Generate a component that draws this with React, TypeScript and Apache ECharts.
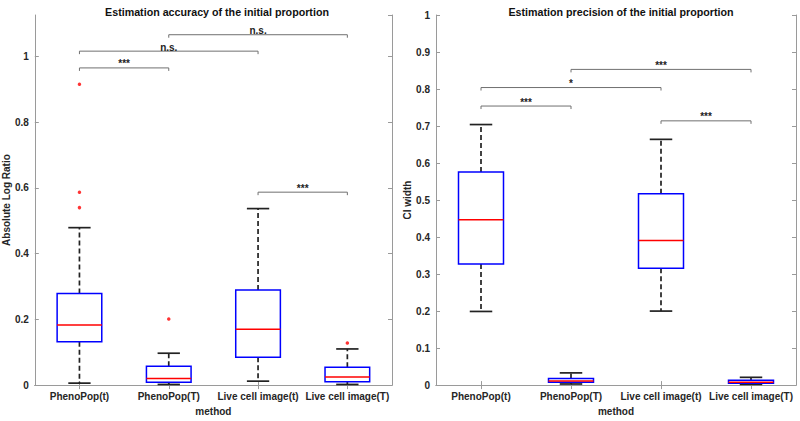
import React, { useEffect, useRef } from "react";
import * as echarts from "echarts";

const categories = ["PhenoPop(t)", "PhenoPop(T)", "Live cell image(t)", "Live cell image(T)"];

// [low whisker, Q1, median, Q3, high whisker]
const accuracyStats = [
  [0.006, 0.132, 0.183, 0.279, 0.479],
  [0.002, 0.009, 0.02, 0.057, 0.097],
  [0.012, 0.085, 0.17, 0.289, 0.537],
  [0.002, 0.01, 0.025, 0.054, 0.11],
];
const accuracyOutliers = [
  [0, 0.915],
  [0, 0.587],
  [0, 0.54],
  [1, 0.201],
  [3, 0.128],
];
const precisionStats = [
  [0.199, 0.327, 0.447, 0.576, 0.704],
  [0.003, 0.008, 0.011, 0.018, 0.033],
  [0.2, 0.316, 0.391, 0.517, 0.664],
  [0.002, 0.005, 0.008, 0.013, 0.021],
];
const precisionOutliers: number[][] = [];

// [from category, to category, height]
const accuracyBrackets = [
  [0, 1, 0.965],
  [0, 2, 1.016],
  [1, 3, 1.066],
  [2, 3, 0.587],
];
const accuracyBracketLabels = ["***", "n.s.", "n.s.", "***"];
const precisionBrackets = [
  [0, 1, 0.754],
  [0, 2, 0.804],
  [1, 3, 0.853],
  [2, 3, 0.714],
];
const precisionBracketLabels = ["***", "*", "***", "***"];

const FONT = "'Liberation Sans', Arial, Helvetica, sans-serif";
const AXIS_COLOR = "#9a9a9a";
const TEXT_COLOR = "#262626";

function boxRender(params: any, api: any) {
  const idx = api.value(0);
  const low = api.coord([idx, api.value(1)]);
  const q1 = api.coord([idx, api.value(2)]);
  const med = api.coord([idx, api.value(3)]);
  const q3 = api.coord([idx, api.value(4)]);
  const high = api.coord([idx, api.value(5)]);
  const band = api.size([1, 0])[0];
  const hw = band * 0.25;
  const cw = band * 0.125;
  const cx = med[0];
  const whisk = { stroke: "#222", lineWidth: 1.7, lineDash: [5, 3] };
  const cap = { stroke: "#222", lineWidth: 1.7 };
  return {
    type: "group",
    children: [
      { type: "line", shape: { x1: cx, y1: q3[1], x2: cx, y2: high[1] }, style: whisk },
      { type: "line", shape: { x1: cx, y1: q1[1], x2: cx, y2: low[1] }, style: whisk },
      { type: "line", shape: { x1: cx - cw, y1: high[1], x2: cx + cw, y2: high[1] }, style: cap },
      { type: "line", shape: { x1: cx - cw, y1: low[1], x2: cx + cw, y2: low[1] }, style: cap },
      {
        type: "rect",
        shape: { x: cx - hw, y: q3[1], width: 2 * hw, height: q1[1] - q3[1] },
        style: { fill: "#ffffff", stroke: "#0000ff", lineWidth: 1.5 },
      },
      { type: "line", shape: { x1: cx - hw, y1: med[1], x2: cx + hw, y2: med[1] }, style: { stroke: "#ff0000", lineWidth: 1.5 } },
    ],
  };
}

function bracketRender(labels: string[]) {
  return (params: any, api: any) => {
    const a = api.coord([api.value(0), api.value(2)]);
    const b = api.coord([api.value(1), api.value(2)]);
    const leg = 3;
    return {
      type: "group",
      children: [
        {
          type: "polyline",
          shape: { points: [[a[0], a[1] + leg], [a[0], a[1]], [b[0], b[1]], [b[0], b[1] + leg]] },
          style: { stroke: "#707070", lineWidth: 1, fill: "none" },
        },
        {
          type: "text",
          x: (a[0] + b[0]) / 2,
          y: a[1] + 1,
          style: {
            text: labels[params.dataIndex],
            fill: "#222",
            font: `bold 10px ${FONT}`,
            align: "center",
            verticalAlign: "bottom",
          },
        },
      ],
    };
  };
}

function catAxis(gridIndex: number, position: "bottom" | "top", withLabels: boolean, name?: string) {
  return {
    type: "category",
    gridIndex,
    position,
    data: categories,
    boundaryGap: true,
    name: name || "",
    nameLocation: "middle",
    nameGap: 18,
    nameTextStyle: { fontFamily: FONT, fontWeight: "bold", fontSize: 10, color: TEXT_COLOR, verticalAlign: "top" },
    axisLine: { show: true, lineStyle: { color: AXIS_COLOR, width: 1 } },
    axisTick: { show: true, inside: true, alignWithLabel: true, length: 4, lineStyle: { color: AXIS_COLOR } },
    axisLabel: { show: withLabels, margin: 6, fontFamily: FONT, fontWeight: "bold", fontSize: 10, color: TEXT_COLOR, interval: 0 },
    splitLine: { show: false },
  };
}

function valAxis(gridIndex: number, position: "left" | "right", max: number, interval: number, withLabels: boolean, name?: string) {
  return {
    type: "value",
    gridIndex,
    position,
    min: 0,
    max,
    interval,
    name: name || "",
    nameLocation: "middle",
    nameGap: 20,
    nameTextStyle: { fontFamily: FONT, fontWeight: "bold", fontSize: 10, color: TEXT_COLOR },
    axisLine: { show: true, lineStyle: { color: AXIS_COLOR, width: 1 } },
    axisTick: { show: true, inside: true, length: 4, lineStyle: { color: AXIS_COLOR } },
    axisLabel: {
      show: withLabels,
      showMaxLabel: max === 1,
      margin: 6,
      fontFamily: FONT,
      fontWeight: "bold",
      fontSize: 10,
      color: TEXT_COLOR,
    },
    splitLine: { show: false },
  };
}

export default function App() {
  const ref = useRef<HTMLDivElement>(null);
  useEffect(() => {
    if (!ref.current) return;
    const chart = echarts.init(ref.current, undefined, { renderer: "svg" });
    const option: any = {
      animation: false,
      backgroundColor: "#ffffff",
      title: [
        {
          text: "Estimation accuracy of the initial proportion",
          left: 212,
          top: 1,
          textAlign: "center",
          textStyle: { fontFamily: FONT, fontWeight: "bold", fontSize: 10.7, color: "#111" },
        },
        {
          text: "Estimation precision of the initial proportion",
          left: 616,
          top: 1,
          textAlign: "center",
          textStyle: { fontFamily: FONT, fontWeight: "bold", fontSize: 10.7, color: "#111" },
        },
      ],
      grid: [
        { left: 32, top: 15, width: 360, height: 376 },
        { left: 436, top: 15, width: 360, height: 377 },
      ],
      xAxis: [
        catAxis(0, "bottom", true, "method"),
        catAxis(0, "top", false),
        catAxis(1, "bottom", true, "method"),
        catAxis(1, "top", false),
      ],
      yAxis: [
        valAxis(0, "left", 1.126, 0.2, true, "Absolute Log Ratio"),
        valAxis(0, "right", 1.126, 0.2, false),
        valAxis(1, "left", 1, 0.1, true, "CI width"),
        valAxis(1, "right", 1, 0.1, false),
      ],
      series: [
        {
          type: "custom",
          xAxisIndex: 0,
          yAxisIndex: 0,
          renderItem: boxRender,
          encode: { x: 0, y: [1, 5] },
          data: accuracyStats.map((s, i) => [i, ...s]),
          z: 2,
        },
        {
          type: "scatter",
          xAxisIndex: 0,
          yAxisIndex: 0,
          symbol: "circle",
          symbolSize: 3.5,
          itemStyle: { color: "#ff0000" },
          data: accuracyOutliers,
          z: 3,
        },
        {
          type: "custom",
          xAxisIndex: 0,
          yAxisIndex: 0,
          renderItem: bracketRender(accuracyBracketLabels),
          encode: { x: 0, y: 2 },
          data: accuracyBrackets,
          z: 4,
        },
        {
          type: "custom",
          xAxisIndex: 2,
          yAxisIndex: 2,
          renderItem: boxRender,
          encode: { x: 0, y: [1, 5] },
          data: precisionStats.map((s, i) => [i, ...s]),
          z: 2,
        },
        {
          type: "scatter",
          xAxisIndex: 2,
          yAxisIndex: 2,
          symbol: "circle",
          symbolSize: 3.5,
          itemStyle: { color: "#ff0000" },
          data: precisionOutliers,
          z: 3,
        },
        {
          type: "custom",
          xAxisIndex: 2,
          yAxisIndex: 2,
          renderItem: bracketRender(precisionBracketLabels),
          encode: { x: 0, y: 2 },
          data: precisionBrackets,
          z: 4,
        },
      ],
    };
    chart.setOption(option);
    return () => chart.dispose();
  }, []);
  return (
    <div
      ref={ref}
      style={{ position: "absolute", left: 0, top: 0, width: 800, height: 421, background: "#fff" }}
    />
  );
}
